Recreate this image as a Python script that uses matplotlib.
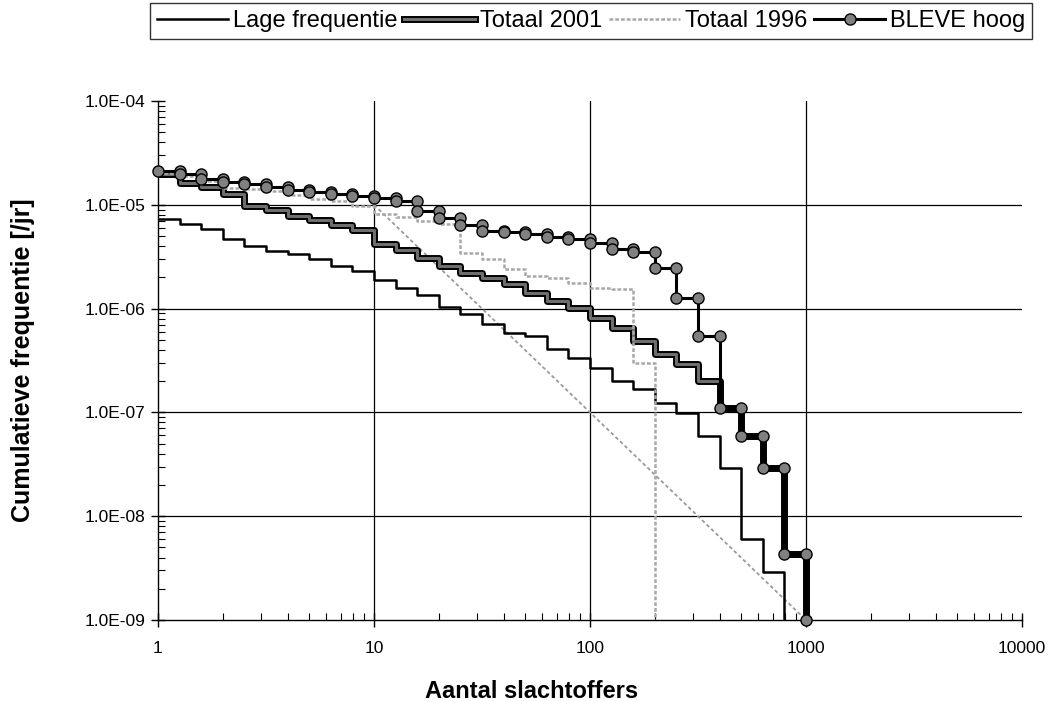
import matplotlib
matplotlib.use('Agg')
import matplotlib.pyplot as plt
import matplotlib.patheffects as pe
from matplotlib.ticker import FixedLocator, FuncFormatter, NullFormatter, LogLocator

plt.rcParams['font.family'] = ['Liberation Sans', 'DejaVu Sans']

# step edges (Aantal slachtoffers)
n_edges = [1, 1.26, 1.58, 2, 2.51, 3.16, 3.98, 5.01, 6.31, 7.94,
           10, 12.6, 15.8, 20, 25.1, 31.6, 39.8, 50.1, 63.1, 79.4,
           100, 126, 158, 200, 251, 316, 398, 501, 631, 794, 1000]

lage_frequentie = [7.33e-6, 6.56e-6, 5.86e-6, 4.70e-6, 4.02e-6, 3.60e-6, 3.37e-6, 3.01e-6,
                   2.58e-6, 2.31e-6, 1.89e-6, 1.58e-6, 1.35e-6, 1.04e-6, 8.87e-7, 7.10e-7,
                   5.81e-7, 5.44e-7, 4.07e-7, 3.33e-7, 2.67e-7, 2.00e-7, 1.67e-7, 1.23e-7,
                   9.8e-8, 5.89e-8, 2.89e-8, 5.97e-9, 2.93e-9]

totaal_2001 = [1.99e-5, 1.63e-5, 1.49e-5, 1.28e-5, 9.78e-6, 8.95e-6, 7.83e-6, 7.16e-6,
               6.41e-6, 5.74e-6, 4.21e-6, 3.68e-6, 3.08e-6, 2.58e-6, 2.21e-6, 1.97e-6,
               1.73e-6, 1.41e-6, 1.18e-6, 1.01e-6, 8.11e-7, 6.50e-7, 4.87e-7, 3.65e-7,
               2.92e-7, 2.00e-7, 1.10e-7, 5.89e-8, 2.89e-8, 4.28e-9]

totaal_1996 = [2.04e-5, 1.91e-5, 1.71e-5, 1.46e-5, 1.43e-5, 1.36e-5, 1.25e-5, 1.14e-5,
               1.09e-5, 9.78e-6, 8.19e-6, 7.66e-6, 7.01e-6, 6.56e-6, 3.44e-6, 3.01e-6,
               2.41e-6, 2.06e-6, 1.97e-6, 1.77e-6, 1.58e-6, 1.55e-6, 2.99e-7]

bleve_hoog = [2.13e-5, 1.99e-5, 1.78e-5, 1.67e-5, 1.60e-5, 1.49e-5, 1.40e-5, 1.33e-5,
              1.28e-5, 1.22e-5, 1.17e-5, 1.09e-5, 8.75e-6, 7.49e-6, 6.41e-6, 5.61e-6,
              5.49e-6, 5.25e-6, 4.91e-6, 4.70e-6, 4.30e-6, 3.76e-6, 3.52e-6, 2.47e-6,
              1.27e-6, 5.44e-7, 1.10e-7, 5.89e-8, 2.89e-8, 4.28e-9]

# orientation line
norm_n = [10, 1000]
norm_f = [1e-5, 1e-9]

x_ticks = [1, 10, 100, 1000, 10000]
y_ticks = [1e-9, 1e-8, 1e-7, 1e-6, 1e-5, 1e-4]


def stairs(edges, vals, end):
    xs = [edges[0]]
    ys = [vals[0]]
    for k in range(1, len(vals)):
        xs += [edges[k], edges[k]]
        ys += [vals[k - 1], vals[k]]
    xs += [edges[len(vals)], edges[len(vals)]]
    ys += [vals[-1], end]
    return xs, ys


fig = plt.figure(figsize=(10.62, 7.01), dpi=100)
ax = fig.add_axes([158 / 1062, 1 - 620 / 701, (1022 - 158) / 1062, (620 - 101) / 701])
ax.set_xscale('log')
ax.set_yscale('log')
ax.set_xlim(1, 10000)
ax.set_ylim(1e-9, 1e-4)

# grid
for v in x_ticks[1:-1]:
    ax.axvline(v, color='black', lw=0.9, zorder=1)
for v in y_ticks[1:-1]:
    ax.axhline(v, color='black', lw=0.9, zorder=1)

ax.plot(norm_n, norm_f, color='#9a9a9a', lw=1.3, ls=(0, (2, 1.5)), zorder=2)

x, y = stairs(n_edges, lage_frequentie, 1e-11)
l1, = ax.plot(x, y, color='black', lw=1.8, zorder=3, label='Lage frequentie')

x, y = stairs(n_edges, totaal_2001, 1e-11)
l2, = ax.plot(x, y, color='#6e6e6e', lw=2.2, zorder=4, label='Totaal 2001',
              path_effects=[pe.Stroke(linewidth=5, foreground='black'), pe.Normal()])

x, y = stairs(n_edges, totaal_1996, 1e-11)
l3, = ax.plot(x, y, color='#a8a8a8', lw=1.8, ls=(0, (1.5, 0.8)), zorder=5, label='Totaal 1996')

x, y = stairs(n_edges, bleve_hoog, 1e-9)
l4, = ax.plot(x, y, color='black', lw=2.2, marker='o', ms=8, mfc='#808080', mec='black',
              mew=1.0, zorder=6, clip_on=False, label='BLEVE hoog')

for s in ['top', 'right']:
    ax.spines[s].set_visible(False)
for s in ['left', 'bottom']:
    ax.spines[s].set_linewidth(1.0)

ax.xaxis.set_major_locator(FixedLocator(x_ticks))
ax.yaxis.set_major_locator(FixedLocator(y_ticks))
ax.xaxis.set_minor_locator(LogLocator(base=10, subs=range(2, 10)))
ax.yaxis.set_minor_locator(LogLocator(base=10, subs=range(2, 10)))
ax.xaxis.set_minor_formatter(NullFormatter())
ax.yaxis.set_minor_formatter(NullFormatter())
ax.xaxis.set_major_formatter(FuncFormatter(lambda v, p: f"{v:g}"))
ax.yaxis.set_major_formatter(FuncFormatter(lambda v, p: f"{v:.1E}"))
ax.tick_params(which='major', direction='inout', length=10, width=1, labelsize=12.5)
ax.tick_params(axis='x', which='major', pad=10)
ax.tick_params(axis='y', which='major', pad=4)
ax.tick_params(which='minor', direction='in', length=5, width=0.8)

ax.set_xlabel('Aantal slachtoffers', fontsize=17, fontweight='bold')
ax.xaxis.set_label_coords((532 - 158) / 864, (620 - 680) / 519)
ax.set_ylabel('Cumulatieve frequentie [/jr]', fontsize=18, fontweight='bold')
ax.yaxis.set_label_coords((35 - 158) / 864, 0.5)

leg = fig.legend(handles=[l1, l2, l3, l4], loc='upper left', ncol=4,
                 bbox_to_anchor=(150 / 1062, 1 - 3 / 701),
                 borderaxespad=0, fontsize=17, frameon=True, fancybox=False,
                 edgecolor='black', handlelength=3.0, handletextpad=0.2, columnspacing=0.3,
                 borderpad=0.3, numpoints=1)
leg.get_frame().set_linewidth(1.0)

fig.savefig('out.png', dpi=100)
